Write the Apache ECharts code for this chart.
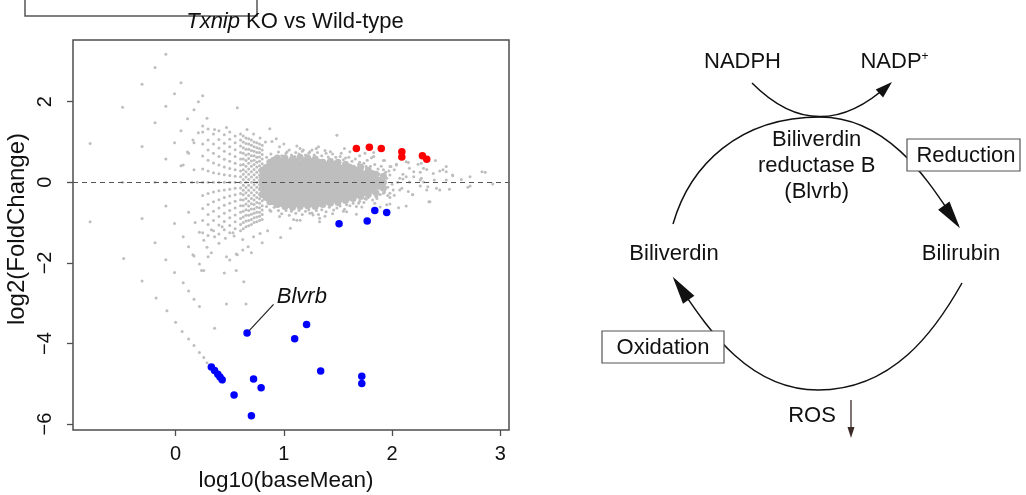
<!DOCTYPE html>
<html><head><meta charset="utf-8">
<script src="https://cdn.jsdelivr.net/npm/echarts@6/dist/echarts.min.js"></script>
<style>html,body{margin:0;padding:0;background:#fff}#c{width:1026px;height:495px}</style>
</head><body><div id="c"></div>
<script>
// ---------- data ----------
const xTicks = [0, 1, 2, 3];
const yTicks = [-6, -4, -2, 0, 2];

const upRed = [[1.67,0.84],[1.79,0.87],[1.90,0.84],[2.09,0.76],[2.09,0.63],[2.28,0.66],[2.32,0.57]];
const downBlue = [[1.51,-1.03],[1.77,-0.96],[1.84,-0.70],[1.95,-0.75],[0.66,-3.74],[1.21,-3.53],[1.10,-3.88],
  [1.34,-4.68],[1.72,-4.81],[1.72,-4.99],[0.72,-4.88],[0.79,-5.10],[0.54,-5.28],[0.70,-5.79],
  [0.33,-4.58],[0.36,-4.67],[0.39,-4.76],[0.41,-4.83],[0.43,-4.90]];

const grayOuter = [
 [-0.09,3.18],[-0.19,2.85],[-0.31,2.43],[0.05,2.47],[-0.01,2.2],[0.25,2.15],[0.21,2.0],[-0.49,1.86],[-0.09,1.89],
 [0.57,1.85],[0.17,1.8],[0.11,1.58],[0.29,1.59],[-0.19,1.48],[0.25,1.4],[0.05,1.28],[0.36,1.31],[0.47,1.36],
 [0.66,1.31],[0.87,1.33],[-0.79,0.96],[-0.31,0.89],[-0.01,0.98],[0.17,0.98],[0.11,0.75],[-0.09,0.58],[0.05,0.41],
 [0.17,0.31],[0.16,1.05],[0.21,1.23],[0.07,0.43],[0.12,0.72],
 [-0.49,0],[-0.19,0],[-0.09,0],[0.05,0],[0.15,0],[0.2,0],
 [-0.79,-0.98],[-0.31,-0.9],[-0.09,-0.59],[-0.01,-1.02],[0.12,-0.74],[0.07,-1.35],[-0.19,-1.5],[-0.48,-1.89],
 [-0.09,-1.92],[0.12,-1.6],[0.17,-1.83],[-0.01,-2.24],[-0.31,-2.45],[0.07,-2.49],[-0.18,-2.87],[0.12,-2.7],
 [0.17,-2.9],[0.22,-3.08],[-0.08,-3.19],[0,-3.47],[0.06,-3.7],[0.12,-3.89],[0.17,-4.05],[0.22,-4.22],[0.26,-4.35],
 [0.29,-4.48],[0.36,-3.62],[0.44,-4.96],[0.26,-2.19],[0.45,-2.25],[0.56,-2.19],[0.63,-2.47],[0.47,-3.02],
 [0.65,-3.02],[0.22,-2.03],[0.3,-1.85],[0.33,-1.75],[0.47,-1.85],[0.5,-1.93],[0.56,-1.78],[0.62,-1.68],[0.67,-1.6],
 [0.7,-1.75],[0.8,-1.5],[0.97,-1.37],[0.18,-1.0],[0.22,-1.24],[0.26,-1.44],[0.29,-1.61],[0.33,-1.18],[0.36,-1.35],
 [0.4,-1.51],[0.43,-1.1],[0.46,-1.39],[0.53,-1.25],[0.54,-1.33],[0.24,-2.19],[0.16,-1.8],[0.57,-1.8],[0.72,-1.35],
 [0.85,-1.2],[0.62,-1.42],[0.72,1.2],[0.78,1.1],[0.83,1.0],[0.93,1.08],[1.0,0.95]
];

// low-count fan: each row is [log10(baseMean), list of log2FC read in that column]
const fanColumns = [
 [0.25,[1.25,0.95,0.65,0.33,0,-0.33,-0.65,-0.95,-1.25]],
 [0.30,[1.32,1.05,0.80,0.55,0.28,0,-0.28,-0.55,-0.80,-1.05,-1.32]],
 [0.35,[1.20,0.95,0.72,0.48,0.24,0,-0.24,-0.48,-0.72,-0.95,-1.20]],
 [0.40,[1.28,1.06,0.85,0.64,0.43,0.21,0,-0.21,-0.43,-0.64,-0.85,-1.06,-1.28]],
 [0.45,[1.18,0.97,0.77,0.57,0.38,0.19,0,-0.19,-0.38,-0.57,-0.77,-0.97,-1.18]],
 [0.50,[1.25,1.07,0.88,0.70,0.52,0.34,0.17,0,-0.17,-0.34,-0.52,-0.70,-0.88,-1.07,-1.25]],
 [0.55,[1.15,0.98,0.81,0.64,0.47,0.31,0.15,0,-0.15,-0.31,-0.47,-0.64,-0.81,-0.98,-1.15]],
 [0.60,[1.20,1.05,0.90,0.74,0.58,0.43,0.28,0.14,0,-0.14,-0.28,-0.43,-0.58,-0.74,-0.90,-1.05,-1.20]],
 [0.625,[1.15,1.0,0.86,0.72,0.58,0.44,0.31,0.2,0.07,-0.07,-0.2,-0.31,-0.44,-0.58,-0.72,-0.86,-1.0,-1.15]],
 [0.65,[1.10,0.96,0.82,0.68,0.54,0.40,0.26,0.13,0,-0.13,-0.26,-0.40,-0.54,-0.68,-0.82,-0.96,-1.10]],
 [0.675,[1.08,0.95,0.82,0.7,0.59,0.47,0.33,0.2,0.07,-0.07,-0.2,-0.33,-0.47,-0.59,-0.7,-0.82,-0.95,-1.08]],
 [0.70,[1.05,0.92,0.79,0.66,0.53,0.40,0.26,0.13,0,-0.13,-0.26,-0.40,-0.53,-0.66,-0.79,-0.92,-1.05]],
 [0.725,[1.0,0.88,0.77,0.66,0.55,0.44,0.32,0.19,0.06,-0.06,-0.19,-0.32,-0.44,-0.55,-0.66,-0.77,-0.88,-1.0]],
 [0.75,[0.98,0.86,0.74,0.62,0.50,0.38,0.25,0.12,0,-0.12,-0.25,-0.38,-0.50,-0.62,-0.74,-0.86,-0.98]],
 [0.775,[0.95,0.84,0.74,0.63,0.52,0.41,0.3,0.18,0.06,-0.06,-0.18,-0.3,-0.41,-0.52,-0.63,-0.74,-0.84,-0.95]],
 [0.80,[0.92,0.80,0.69,0.58,0.46,0.35,0.23,0.12,0,-0.12,-0.23,-0.35,-0.46,-0.58,-0.69,-0.80,-0.92]]
];

// dense core of the cloud (solid grey mass), two interleaved sets of columns
const cloudColumns = [
 [0.80,[-0.3,-0.15,0,0.15,0.3]],
 [0.87,[-0.48,-0.35,-0.2,-0.05,0.1,0.25,0.4,0.5]],
 [0.94,[-0.55,-0.4,-0.25,-0.1,0.05,0.2,0.35,0.5,0.6]],
 [1.01,[-0.6,-0.45,-0.3,-0.15,0,0.15,0.3,0.45,0.6]],
 [1.08,[-0.62,-0.47,-0.32,-0.17,-0.02,0.13,0.28,0.43,0.58]],
 [1.15,[-0.6,-0.45,-0.3,-0.15,0,0.15,0.3,0.45,0.62]],
 [1.22,[-0.58,-0.43,-0.28,-0.13,0.02,0.17,0.32,0.47,0.6]],
 [1.29,[-0.6,-0.45,-0.3,-0.15,0,0.15,0.3,0.45,0.58]],
 [1.36,[-0.55,-0.4,-0.25,-0.1,0.05,0.2,0.35,0.5]],
 [1.43,[-0.52,-0.37,-0.22,-0.07,0.08,0.23,0.38,0.52]],
 [1.50,[-0.5,-0.35,-0.2,-0.05,0.1,0.25,0.4,0.5]],
 [1.57,[-0.45,-0.3,-0.15,0,0.15,0.3,0.45]],
 [1.64,[-0.4,-0.25,-0.1,0.05,0.2,0.35]],
 [1.71,[-0.35,-0.2,-0.05,0.1,0.25,0.38]],
 [1.78,[-0.3,-0.15,0,0.15,0.3]],
 [1.85,[-0.25,-0.1,0.05,0.2]],
 [1.92,[-0.15,0,0.15]]
];
const cloudColumnsB = [
 [0.835,[-0.38,-0.23,-0.08,0.07,0.22,0.37]],
 [0.905,[-0.48,-0.33,-0.18,-0.03,0.12,0.27,0.42,0.55]],
 [0.975,[-0.52,-0.37,-0.22,-0.07,0.08,0.23,0.38,0.53]],
 [1.045,[-0.55,-0.4,-0.25,-0.1,0.05,0.2,0.35,0.5]],
 [1.115,[-0.53,-0.38,-0.23,-0.08,0.07,0.22,0.37,0.52]],
 [1.185,[-0.52,-0.37,-0.22,-0.07,0.08,0.23,0.38,0.53]],
 [1.255,[-0.53,-0.38,-0.23,-0.08,0.07,0.22,0.37,0.52]],
 [1.325,[-0.52,-0.37,-0.22,-0.07,0.08,0.23,0.38,0.5]],
 [1.395,[-0.47,-0.32,-0.17,-0.02,0.13,0.28,0.43]],
 [1.465,[-0.43,-0.28,-0.13,0.02,0.17,0.32,0.45]],
 [1.535,[-0.4,-0.25,-0.1,0.05,0.2,0.35]],
 [1.605,[-0.37,-0.22,-0.07,0.08,0.23,0.38]],
 [1.675,[-0.3,-0.15,0,0.15,0.3]],
 [1.745,[-0.25,-0.1,0.05,0.2]],
 [1.815,[-0.2,-0.05,0.1,0.22]],
 [1.885,[-0.1,0.05]]
];

// loose points along the cloud's edge
const cloudEdge = [
 [0.84,0.62],[0.88,0.7],[0.91,0.6],[0.95,0.75],[0.98,0.66],[1.02,0.72],[1.05,0.8],[1.07,0.68],[1.11,0.74],
 [1.14,0.7],[1.17,0.77],[1.2,0.68],[1.23,0.72],[1.26,0.8],[1.28,0.68],[1.31,0.74],[1.35,0.66],[1.38,0.79],
 [1.41,0.63],[1.45,0.7],[1.48,0.62],[1.53,0.72],[1.55,0.56],[1.6,0.62],[1.63,0.52],[1.66,0.58],[1.7,0.5],
 [1.74,0.47],[1.77,0.55],[1.8,0.4],[1.84,0.44],[1.87,0.33],[1.9,0.4],[1.94,0.25],[1.97,0.28],
 [0.84,-0.6],[0.88,-0.72],[0.91,-0.62],[0.95,-0.7],[0.98,-0.78],[1.02,-0.7],[1.05,-0.82],[1.07,-0.72],
 [1.11,-0.77],[1.14,-0.7],[1.17,-0.8],[1.2,-0.72],[1.23,-0.68],[1.26,-0.76],[1.3,-0.7],[1.32,-0.8],[1.35,-0.68],
 [1.39,-0.73],[1.42,-0.62],[1.45,-0.78],[1.49,-0.64],[1.52,-0.59],[1.55,-0.72],[1.61,-0.58],[1.64,-0.52],
 [1.67,-0.6],[1.7,-0.47],[1.74,-0.5],[1.78,-0.38],[1.82,-0.44],[1.85,-0.36],[1.89,-0.3],[1.93,-0.24],[1.96,-0.33]
];

const grayFringe = [
 [0.89,1.01],[0.96,0.88],[1.03,0.76],[1.15,0.84],[1.24,0.76],[1.32,0.88],[1.39,0.72],[1.52,0.64],[1.61,0.76],
 [1.1,0.64],[1.49,1.17],[1.12,0.9],[1.18,0.8],[1.3,0.84],[1.43,0.76],[1.56,0.84],[1.75,0.72],[1.83,0.64],
 [1.92,0.54],[1.98,0.39],[2.04,0.45],[2.15,0.49],[2.2,0.26],[2.32,0.32],[2.38,0.22],[2.47,0.31],[2.56,0.18],
 [2.83,0.26],[2.86,0.25],[2.93,-0.04],[2.13,0.14],[2.27,0.1],[2.39,0.06],[2.5,0.06],[2.64,0.07],[2.72,0.14],
 [1.83,0.74],[1.57,0.6],[1.7,0.66],[1.81,0.61],[2.04,0.43],[2.13,0.51],[2.24,0.45],[2.29,0.35],[2.4,0.54],
 [2.44,0.28],[2.5,0.26],[2.56,0.16],[2.5,0.39],[2.26,0.25],[2.1,0.2],[1.93,0.54],[2.16,0.35],[2.26,0.06],
 [2.2,0.14],[2.16,0.01],[2.07,0.1],[1.98,0.18],[1.92,0.31],[2.02,0.31],[1.89,0.01],[1.76,0.39],[1.69,0.45],
 [1.7,0.26],[1.79,0.1],[2.27,0.47],[1.99,0.39],
 [0.87,-0.69],[0.96,-0.85],[1.12,-0.94],[1.24,-0.77],[1.33,-0.89],[1.46,-0.69],[1.58,-0.73],[1.69,-0.52],
 [1.06,-1.14],[0.78,-1.27],[1.09,-0.92],[1.15,-0.94],[1.27,-0.81],[1.33,-0.98],[1.38,-0.84],[1.56,-0.67],
 [1.67,-0.79],[1.72,-0.61],[1.89,-0.61],[1.98,-0.54],[2.13,-0.59],[2.35,-0.48],[1.76,-0.42],[2.19,-0.31],
 [2.32,-0.19],[2.44,-0.19],[2.53,-0.17],[2.72,-0.09],[2.07,-0.19],[1.98,-0.27],[1.86,-0.34],[2.26,-0.09],
 [2.7,-0.12],[2.41,-0.15],[2.33,-0.11],[2.29,0.01],[2.34,-0.48],[2.19,-0.3],[2.06,-0.63],[1.95,-0.56],
 [1.84,-0.52],[1.58,-0.56],[2.09,-0.15],[2.01,-0.19],[2.15,-0.23],[1.92,-0.27],[1.98,-0.38],[1.86,-0.4],
 [1.73,-0.19],[1.81,-0.19],[1.75,-0.4],[1.59,-0.4],[1.64,-0.27],[1.95,0.1],[2.0,-0.05],[1.9,-0.15],[2.05,0.0],
 [1.88,0.2],[1.96,-0.12],[2.1,0.08],[2.02,-0.32]
];

const geneLabel = 'Blvrb';
const geneLeader = [[0.68,-3.68],[0.905,-3.03]];
const geneLabelAt = [[1.166,-2.85]];

// ---------- build ----------
function fromColumns(cols) { const out = []; cols.forEach(c => c[1].forEach(y => out.push([c[0], y]))); return out; }
const grayPoints = grayOuter.concat(fromColumns(fanColumns), grayFringe, cloudEdge);
const cloudPoints = fromColumns(cloudColumns).concat(fromColumns(cloudColumnsB));

const FONT = '"Liberation Sans", Arial, sans-serif';
const INK = '#111';
const GRAY = '#bebebe';
const fmt = v => (v < 0 ? '\u2212' + (-v) : String(v));

const chart = echarts.init(document.getElementById('c'), null, {renderer: 'canvas'});

function txt(x, y, text, size, extra) {
  return {type: 'text', x: x, y: y, z: 20,
    style: Object.assign({text: text, fontSize: size, fontFamily: FONT, fill: INK, align: 'center', verticalAlign: 'middle'}, extra || {})};
}
function tri(p) { return {type: 'polygon', z: 12, shape: {points: p}, style: {fill: INK}}; }
function box(x, y, w, h) { return {type: 'rect', z: 15, shape: {x: x, y: y, width: w, height: h}, style: {fill: '#fff', stroke: '#555', lineWidth: 1.2}}; }
function bez(s) { return {type: 'bezierCurve', z: 10, shape: s, style: {stroke: INK, lineWidth: 1.5, fill: null}}; }

const tickStyle = {color: '#4d4d4d', width: 1.3};
const option = {
  animation: false,
  grid: {left: 73, top: 40, width: 436, height: 390, show: true, borderColor: '#4d4d4d', borderWidth: 1.5, backgroundColor: 'transparent'},
  xAxis: {
    type: 'value', min: -0.948, max: 3.08,
    axisLine: {show: false, onZero: false}, splitLine: {show: false},
    axisTick: {show: true, inside: false, length: 6, customValues: xTicks, lineStyle: tickStyle},
    axisLabel: {customValues: xTicks, margin: 14, fontSize: 20, color: INK, fontFamily: FONT,
      formatter: v => (Number.isInteger(v) ? fmt(v) : '')}
  },
  yAxis: {
    type: 'value', min: -6.146, max: 3.531,
    axisLine: {show: false, onZero: false}, splitLine: {show: false},
    axisTick: {show: true, inside: false, length: 6, customValues: yTicks, lineStyle: tickStyle},
    axisLabel: {customValues: yTicks, rotate: 90, margin: 18, fontSize: 20, color: INK, fontFamily: FONT,
      formatter: v => (Number.isInteger(v) ? fmt(v) : '')}
  },
  series: [
    {type: 'scatter', name: 'all genes', data: grayPoints, symbolSize: 3, itemStyle: {color: GRAY, opacity: 1}, z: 2, silent: true},
    {type: 'scatter', name: 'dense', data: cloudPoints, symbolSize: 7, itemStyle: {color: GRAY, opacity: 1}, z: 2, silent: true},
    {type: 'line', name: 'zero', data: [], z: 3, silent: true,
      markLine: {silent: true, symbol: 'none', label: {show: false}, animation: false,
        lineStyle: {type: [5, 4], color: '#555', width: 1}, data: [{yAxis: 0}]}},
    {type: 'scatter', name: 'up', data: upRed, symbolSize: 7.5, itemStyle: {color: '#ff0000', opacity: 1}, z: 4},
    {type: 'scatter', name: 'down', data: downBlue, symbolSize: 7.5, itemStyle: {color: '#0000ff', opacity: 1}, z: 4},
    {type: 'line', name: 'leader', data: geneLeader, symbol: 'none', lineStyle: {color: '#222', width: 1.2, opacity: 1}, z: 5, silent: true},
    {type: 'scatter', name: 'label', data: geneLabelAt, symbolSize: 0, z: 5, silent: true, itemStyle: {opacity: 1},
      label: {show: true, position: 'inside', formatter: geneLabel, fontSize: 22, fontStyle: 'italic', color: INK, opacity: 1, fontFamily: FONT}}
  ],
  graphic: [
    {type: 'rect', z: 5, shape: {x: 25, y: -10, width: 232, height: 26}, style: {fill: null, stroke: '#555', lineWidth: 1.5}},
    txt(295, 22, '{i|Txnip} KO vs Wild-type', 22, {rich: {i: {fontStyle: 'italic', fontSize: 22, fontFamily: FONT, fill: INK}}}),
    txt(286, 481, 'log10(baseMean)', 22.5),
    Object.assign(txt(17, 229, 'log2(FoldChange)', 24), {rotation: Math.PI / 2}),
    bez({x1: 673, y1: 224, cpx1: 690, cpy1: 165, cpx2: 739, cpy2: 117, x2: 820, y2: 117}),
    bez({x1: 820, y1: 117, cpx1: 895, cpy1: 117, cpx2: 936.8, cpy2: 195.6, x2: 958, y2: 225}),
    bez({x1: 962, y1: 283, cpx1: 935, cpy1: 331, cpx2: 893, cpy2: 390, x2: 818, y2: 390}),
    bez({x1: 818, y1: 390, cpx1: 743, cpy1: 390, cpx2: 701.5, cpy2: 318, x2: 675, y2: 280}),
    bez({x1: 752, y1: 83, cpx1: 818, cpy1: 149.5, x2: 889, y2: 84.5}),
    tri([[960, 228.3], [938.1, 209.7], [949.5, 201.5]]),
    tri([[672.7, 276.7], [694.4, 295.7], [683, 303.7]]),
    tri([[892, 82], [883.1, 97.6], [875.7, 89.4]]),
    {type: 'line', z: 10, shape: {x1: 851, y1: 400, x2: 851, y2: 430}, style: {stroke: '#3a2a28', lineWidth: 1.3}},
    {type: 'polygon', z: 10, shape: {points: [[851, 438], [847.5, 427], [854.5, 427]]}, style: {fill: '#3a2a28'}},
    box(907, 139, 113, 32),
    box(602, 331, 122, 32),
    txt(742.5, 62, 'NADPH', 22),
    txt(894.5, 62, '{a|NADP}{s|+}', 22, {rich: {a: {fontSize: 22, fontFamily: FONT, fill: INK}, s: {fontSize: 12, fontFamily: FONT, fill: INK, verticalAlign: 'top'}}}),
    txt(816.7, 166, 'Biliverdin\nreductase B\n(Blvrb)', 22, {lineHeight: 26}),
    txt(966, 155.5, 'Reduction', 22),
    txt(961, 253.5, 'Bilirubin', 22),
    txt(674, 253.5, 'Biliverdin', 22),
    txt(663, 347.5, 'Oxidation', 22),
    txt(812, 415.5, 'ROS', 22)
  ]
};
chart.setOption(option);
</script></body></html>
